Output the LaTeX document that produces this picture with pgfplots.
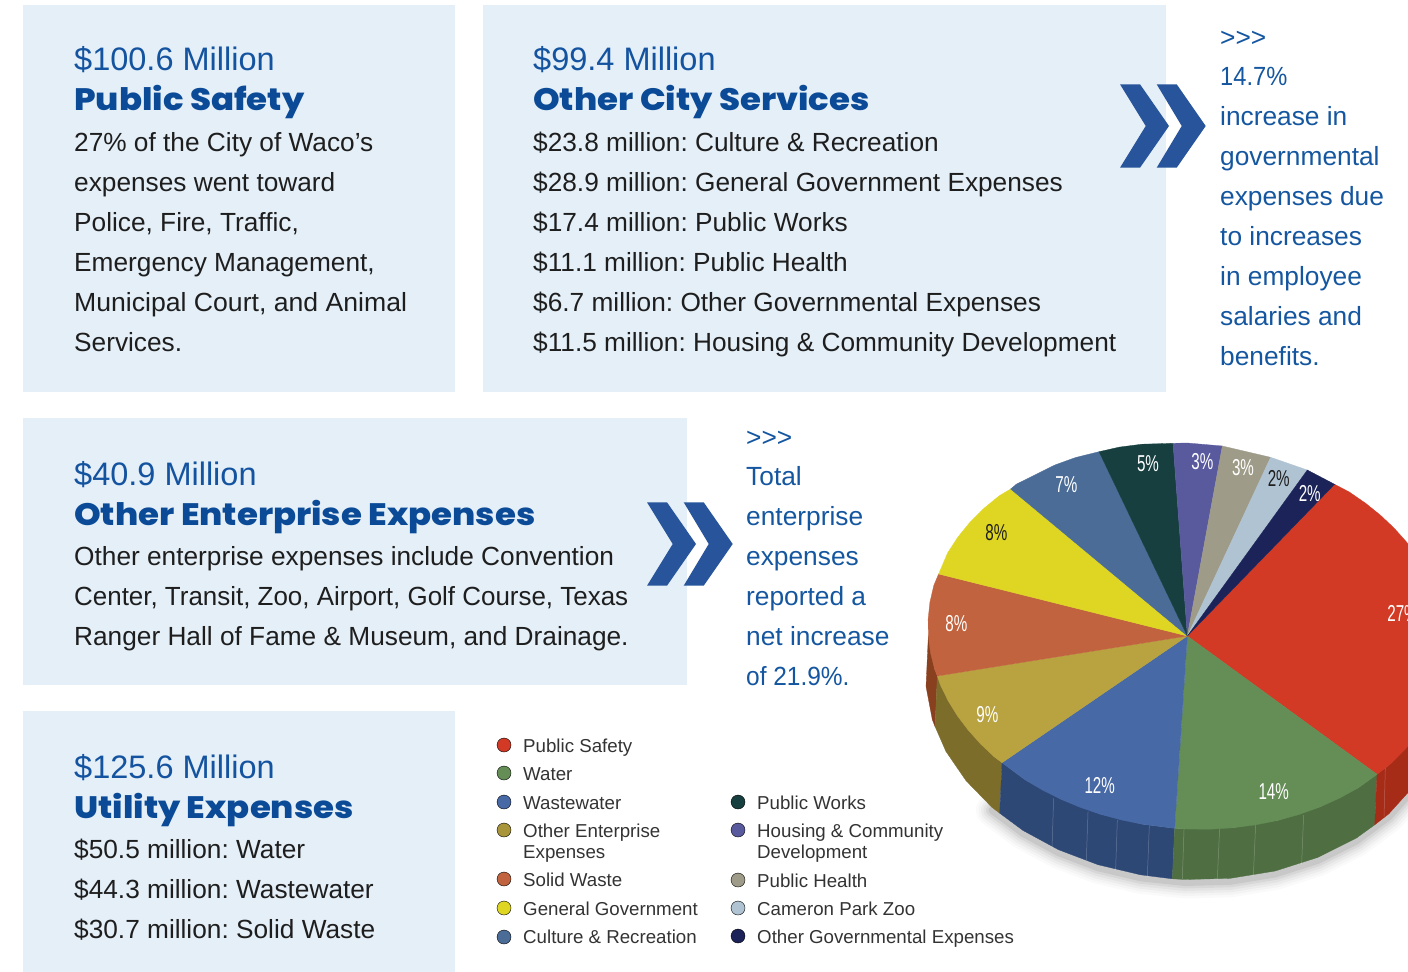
\documentclass[border=0pt]{standalone}
\usepackage{fontspec}
\usepackage{pgfplots}
\pgfplotsset{compat=1.18}
\usepackage{pgfplotstable}
\setmainfont{Liberation Sans}
\newfontfamily\hf{Poppins ExtraBold}
\frenchspacing
\definecolor{boxbg}{HTML}{E4EFF8}
\definecolor{ttl}{HTML}{14539F}
\definecolor{hd}{HTML}{0B4A96}
\definecolor{side}{HTML}{14569F}
\definecolor{chev}{HTML}{27549B}
\definecolor{body}{HTML}{1E1E1E}
\definecolor{leg}{HTML}{333333}
\definecolor{cRed}{HTML}{D33A26}
\definecolor{cGreen}{HTML}{658D56}
\definecolor{cBlue}{HTML}{4769A6}
\definecolor{cOlive}{HTML}{B8A340}
\definecolor{cOrange}{HTML}{C1633E}
\definecolor{cYellow}{HTML}{DFD624}
\definecolor{cCulture}{HTML}{4B6C97}
\definecolor{cWorks}{HTML}{173F3F}
\definecolor{cHousing}{HTML}{595A9E}
\definecolor{cHealth}{HTML}{9E9B88}
\definecolor{cZoo}{HTML}{AFC3D2}
\definecolor{cNavy}{HTML}{1C2359}
\definecolor{sRed}{HTML}{A62C18}
\definecolor{sGreen}{HTML}{4F6F43}
\definecolor{sBlue}{HTML}{2E4876}
\definecolor{sOlive}{HTML}{7C6D2A}
\definecolor{sOrange}{HTML}{88401F}
\pgfplotstableread{
x y
-195.4 171.3
-164.4 194.4
-128.8 213.7
-89.3 228.7
-46.8 238.8
-2.3 243.5
43.1 242.3
87.8 235
130.2 221.5
168.7 202.3
201.4 177.9
227.2 149.3
250 115
}\botarc
\newcommand{\fs}[1]{\fontsize{#1bp}{#1bp}\selectfont}
\newcommand{\TT}[3]{\node[anchor=base west,inner sep=0pt,text=ttl] at (axis cs:#1,#2) {\fs{32.5}#3};}
\newcommand{\HH}[3]{\node[anchor=base west,inner sep=0pt,text=hd] at (axis cs:#1,#2) {\hf\fs{31}\scalebox{1.095}[1]{#3}};}
\newcommand{\BB}[3]{\node[anchor=base west,inner sep=0pt,text=body] at (axis cs:#1,#2) {\fs{26.25}#3};}
\newcommand{\SD}[3]{\node[anchor=base west,inner sep=0pt,text=side] at (axis cs:#1,#2) {\fs{26.3}#3};}
\newcommand{\LG}[3]{\node[anchor=base west,inner sep=0pt,text=leg] at (axis cs:#1,#2) {\fs{18.7}#3};}
\newcommand{\PL}[4]{\node[inner sep=0pt,text=#3] at (axis cs:#1,#2) {\fs{23}\scalebox{.66}[1]{#4}};}
\newcommand{\SEAM}[4]{\addplot[white,opacity=.25,line width=.5bp,forget plot] coordinates {(#1,#2)(#3,#4)};}
\newcommand{\SH}[2]{\addplot[draw=black,opacity=#1,line width=#2bp,line join=round,line cap=round,yshift=-3bp,forget plot] table[x=x,y=y] {\botarc};}
\newcommand{\DOT}[3]{\addplot[only marks,mark=*,mark size=7bp,mark options={draw=none,fill=#3}] coordinates {(#1,#2)};}
\pgfplotsset{px/.style={hide axis,scale only axis,width=1408bp,height=972bp,at={(0,0)},anchor=south west,y dir=reverse}}
\begin{document}
\begin{tikzpicture}
\useasboundingbox (0,0) rectangle (1408bp,972bp);
% ---------- pie, in pixels around its centre
\begin{axis}[px,xmin=-1187.3,xmax=220.7,ymin=-636,ymax=336]
\SH{.02}{32}
\SH{.025}{27}
\SH{.03}{22}
\SH{.04}{17}
\SH{.05}{12}
\SH{.07}{7}
% side walls
\addplot[fill=sOrange,draw=sOrange,line width=.3pt] coordinates {(-250,40)(-252.7,33.2)(-259,0)(-261.3,50.5)(-255,83.7)(-252.3,90.5)} --cycle;
\addplot[fill=sOlive,draw=sOlive,line width=.3pt] coordinates {(-185.3,126.7)(-193.1,120.8)(-219,94.2)(-239.1,64.9)(-250,40)(-252.3,90.5)(-241.4,115.4)(-221.3,144.7)(-195.4,171.3)(-187.6,177.2)} --cycle;
\addplot[fill=sBlue,draw=sBlue,line width=.3pt] coordinates {(-12.7,192.3)(-44.5,188.3)(-87,178.2)(-126.5,163.2)(-162.1,143.9)(-185.3,126.7)(-187.6,177.2)(-164.4,194.4)(-128.8,213.7)(-89.3,228.7)(-46.8,238.8)(-15,242.8)} --cycle;
\addplot[fill=sGreen,draw=sGreen,line width=.3pt] coordinates {(189.7,138.3)(171,151.8)(132.5,171)(90.1,184.5)(45.4,191.8)(0,193)(-12.7,192.3)(-15,242.8)(-2.3,243.5)(43.1,242.3)(87.8,235)(130.2,221.5)(168.7,202.3)(187.4,188.8)} --cycle;
\addplot[fill=sRed,draw=sRed,line width=.3pt] coordinates {(229.5,98.8)(203.7,127.4)(189.7,138.3)(187.4,188.8)(201.4,177.9)(227.2,149.3)} --cycle;
% facet seams
\SEAM{-133.7}{162.3}{-135.3}{212.3}
\SEAM{-99.3}{175.7}{-101}{224}
\SEAM{-70}{184}{-71.7}{234}
\SEAM{-38}{189.7}{-40}{240.7}
\SEAM{-3.3}{193}{-5}{243.3}
\SEAM{32.3}{192.3}{30}{243.3}
\SEAM{68.3}{189}{66}{240}
\SEAM{116.3}{179}{114.3}{228.3}
\SEAM{198}{131.3}{196.7}{180.7}
% top face
\addplot[fill=cRed,draw=cRed,line width=.3pt] coordinates {(0,0)(147.3,-151.7)(162.1,-143.9)(178.2,-132.8)(193.1,-120.8)(206.8,-107.9)(219,-94.2)(229.9,-79.9)(239.1,-64.9)(252.7,-33.2)(259,0)(257.4,33.8)(247.6,67.2)(229.5,98.8)(217.6,113.5)(203.7,127.4)(189.7,138.3)} --cycle;
\addplot[fill=cGreen,draw=cGreen,line width=.3pt] coordinates {(0,0)(189.7,138.3)(171,151.8)(152.3,162.1)(132.5,171)(111.7,178.5)(90.1,184.5)(67.9,188.9)(45.4,191.8)(22.7,193.2)(0,193)(-12.7,192.3)} --cycle;
\addplot[fill=cBlue,draw=cBlue,line width=.3pt] coordinates {(0,0)(-12.7,192.3)(-44.5,188.3)(-66.1,183.9)(-87,178.2)(-107.2,171.3)(-126.5,163.2)(-144.8,154.1)(-162.1,143.9)(-185.3,126.7)} --cycle;
\addplot[fill=cOlive,draw=cOlive,line width=.3pt] coordinates {(0,0)(-185.3,126.7)(-193.1,120.8)(-206.8,107.9)(-219,94.2)(-229.9,79.9)(-239.1,64.9)(-246.8,49.3)(-250,40)} --cycle;
\addplot[fill=cOrange,draw=cOrange,line width=.3pt] coordinates {(0,0)(-250,40)(-252.7,33.2)(-256.8,16.8)(-259,0)(-259.2,-16.9)(-257.4,-33.8)(-253.5,-50.6)(-248.7,-62)} --cycle;
\addplot[fill=cYellow,draw=cYellow,line width=.3pt] coordinates {(0,0)(-248.7,-62)(-239.6,-83.3)(-229.5,-98.8)(-217.6,-113.5)(-203.7,-127.4)(-188.1,-140.2)(-176.7,-147)} --cycle;
\addplot[fill=cCulture,draw=cCulture,line width=.3pt] coordinates {(0,0)(-176.7,-147)(-171,-151.8)(-132.5,-171)(-111.7,-178.5)(-88.3,-184.3)} --cycle;
\addplot[fill=cWorks,draw=cWorks,line width=.3pt] coordinates {(0,0)(-88.3,-184.3)(-67.9,-188.9)(-45.4,-191.8)(-14.3,-192.7)} --cycle;
\addplot[fill=cHousing,draw=cHousing,line width=.3pt] coordinates {(0,0)(-14.3,-192.7)(0,-193)(35,-190)} --cycle;
\addplot[fill=cHealth,draw=cHealth,line width=.3pt] coordinates {(0,0)(35,-190)(83.3,-178.7)} --cycle;
\addplot[fill=cZoo,draw=cZoo,line width=.3pt] coordinates {(0,0)(83.3,-178.7)(120,-166)} --cycle;
\addplot[fill=cNavy,draw=cNavy,line width=.3pt] coordinates {(0,0)(120,-166)(147.3,-151.7)} --cycle;
\end{axis}
% ---------- page in pixels
\begin{axis}[px,xmin=0,xmax=1408,ymin=0,ymax=972]
\addplot[fill=boxbg,draw=none] coordinates {(23,5)(455,5)(455,392)(23,392)} --cycle;
\addplot[fill=boxbg,draw=none] coordinates {(483,5)(1166,5)(1166,392)(483,392)} --cycle;
\addplot[fill=boxbg,draw=none] coordinates {(23,418)(687,418)(687,685)(23,685)} --cycle;
\addplot[fill=boxbg,draw=none] coordinates {(23,711)(455,711)(455,972)(23,972)} --cycle;
% chevrons
\addplot[fill=chev,draw=none] coordinates {(1120,84.3)(1140,84.3)(1169,126)(1140,167.7)(1120,167.7)(1145.7,126)} --cycle;
\addplot[fill=chev,draw=none] coordinates {(1156.7,84.3)(1176.7,84.3)(1205.7,126)(1176.7,167.7)(1156.7,167.7)(1181.7,126)} --cycle;
\addplot[fill=chev,draw=none] coordinates {(647,502.3)(667,502.3)(696,544)(667,585.7)(647,585.7)(672.7,544)} --cycle;
\addplot[fill=chev,draw=none] coordinates {(683.7,502.3)(703.7,502.3)(732.7,544)(703.7,585.7)(683.7,585.7)(708.7,544)} --cycle;
% legend markers
\DOT{504}{745}{cRed}
\DOT{504}{773}{cGreen}
\DOT{504}{802}{cBlue}
\DOT{504}{830}{cOlive!92!black}
\DOT{504}{879}{cOrange}
\DOT{504}{908}{cYellow}
\DOT{504}{937}{cCulture}
\DOT{738}{802}{cWorks}
\DOT{738}{830}{cHousing}
\DOT{738}{880}{cHealth}
\DOT{738}{908}{cZoo}
\DOT{738}{936}{cNavy}
% box 1
\TT{74}{71}{\$100.6 Million}
\HH{74}{111}{Public Safety}
\BB{74}{151.7}{27\% of the City of Waco’s}
\BB{74}{191.7}{expenses went toward}
\BB{74}{231}{Police, Fire, Traffic,}
\BB{74}{271}{Emergency Management,}
\BB{74}{311}{\scalebox{1.014}[1]{Municipal Court, and Animal}}
\BB{74}{351}{Services.}
% box 2
\TT{533}{71}{\$99.4 Million}
\HH{533}{111}{Other City Services}
\BB{533}{151.7}{\$23.8 million: Culture \& Recreation}
\BB{533}{191.7}{\$28.9 million: General Government Expenses}
\BB{533}{231}{\$17.4 million: Public Works}
\BB{533}{271}{\$11.1 million: Public Health}
\BB{533}{311}{\$6.7 million: Other Governmental Expenses}
\BB{533}{351}{\$11.5 million: Housing \& Community Development}
% side 1
\SD{1220}{47}{>{}>{}>}
\SD{1220}{86}{\scalebox{.9}[1]{14.7\%}}
\SD{1220}{126}{increase in}
\SD{1220}{166}{governmental}
\SD{1220}{206}{expenses due}
\SD{1220}{245.5}{to increases}
\SD{1220}{285}{in employee}
\SD{1220}{325}{salaries and}
\SD{1220}{365}{benefits.}
% box 3
\TT{74}{485}{\$40.9 Million}
\HH{74}{525}{Other Enterprise Expenses}
\BB{74}{565}{Other enterprise expenses include Convention}
\BB{74}{605}{\scalebox{.988}[1]{Center, Transit, Zoo, Airport, Golf Course, Texas}}
\BB{74}{645}{Ranger Hall of Fame \& Museum, and Drainage.}
% side 2
\SD{746}{446}{>{}>{}>}
\SD{746}{485}{Total}
\SD{746}{525}{enterprise}
\SD{746}{565}{expenses}
\SD{746}{605}{reported a}
\SD{746}{645}{net increase}
\SD{746}{685}{\scalebox{.93}[1]{of 21.9\%.}}
% box 4
\TT{74}{778}{\$125.6 Million}
\HH{74}{818}{Utility Expenses}
\BB{74}{858}{\$50.5 million: Water}
\BB{74}{898}{\$44.3 million: Wastewater}
\BB{74}{938}{\$30.7 million: Solid Waste}
% legend text
\LG{523}{752}{Public Safety}
\LG{523}{780}{Water}
\LG{523}{809}{Wastewater}
\LG{523}{837}{Other Enterprise}
\LG{523}{858}{Expenses}
\LG{523}{886}{Solid Waste}
\LG{523}{915}{General Government}
\LG{523}{943}{Culture \& Recreation}
\LG{757}{809}{Public Works}
\LG{757}{837}{Housing \& Community}
\LG{757}{858}{Development}
\LG{757}{887}{Public Health}
\LG{757}{915}{Cameron Park Zoo}
\LG{757}{943}{Other Governmental Expenses}
% pie labels
\PL{1148}{463.8}{white}{5\%}
\PL{1202.3}{461.5}{white}{3\%}
\PL{1243}{467.2}{white}{3\%}
\PL{1278.7}{478.8}{body}{2\%}
\PL{1309.7}{493.8}{white}{2\%}
\PL{1066.3}{484.8}{white}{7\%}
\PL{996.3}{532.2}{body}{8\%}
\PL{956.3}{623.8}{white}{8\%}
\PL{987.3}{714.5}{white}{9\%}
\PL{1099.7}{785.8}{white}{12\%}
\PL{1273.7}{791.8}{white}{14\%}
\PL{1402.5}{613.8}{white}{27\%}
\end{axis}
\end{tikzpicture}
\end{document}
